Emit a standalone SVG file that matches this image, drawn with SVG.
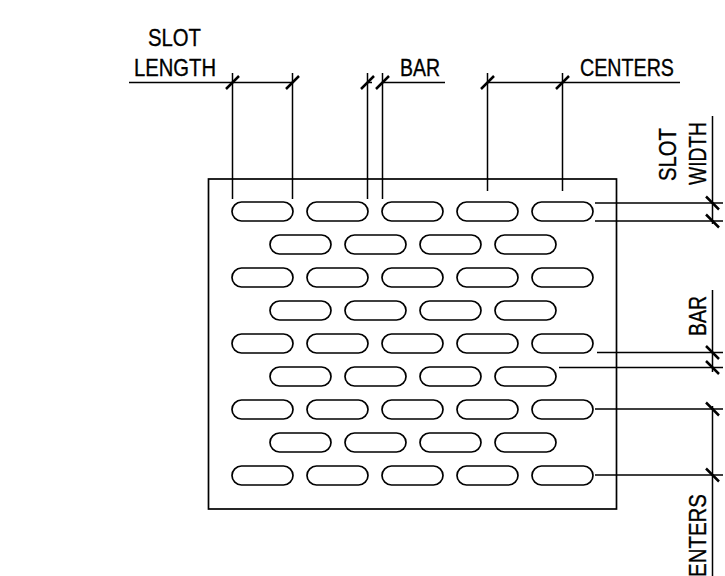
<svg xmlns="http://www.w3.org/2000/svg" width="725" height="576" viewBox="0 0 725 576">
<style>
.o{fill:none;stroke:#000;stroke-width:1.5}
.s{fill:none;stroke:#000;stroke-width:1.7}
.t{fill:none;stroke:#000;stroke-width:2.5}
text{font-family:"Liberation Sans",Arial,sans-serif;font-size:24.5px;fill:#000;stroke:#000;stroke-width:.35}
</style>
<defs>
<rect id="slot" x="0" y="-9.5" width="61" height="19" rx="9.5" ry="9.5" class="s"/>
<path id="th" d="M-6.5 6.5L6.5-6.5" class="t"/>
<path id="tv" d="M-6.5-6.5L6.5 6.5" class="t"/>
</defs>
<g id="plate"><rect x="208.5" y="179" width="408" height="330" class="s"/></g>
<g id="slots">
<use href="#slot" x="232" y="211.5"/><use href="#slot" x="307" y="211.5"/><use href="#slot" x="382" y="211.5"/><use href="#slot" x="457" y="211.5"/><use href="#slot" x="532" y="211.5"/>
<use href="#slot" x="270" y="244.5"/><use href="#slot" x="345" y="244.5"/><use href="#slot" x="420" y="244.5"/><use href="#slot" x="495" y="244.5"/>
<use href="#slot" x="232" y="277.5"/><use href="#slot" x="307" y="277.5"/><use href="#slot" x="382" y="277.5"/><use href="#slot" x="457" y="277.5"/><use href="#slot" x="532" y="277.5"/>
<use href="#slot" x="270" y="310.5"/><use href="#slot" x="345" y="310.5"/><use href="#slot" x="420" y="310.5"/><use href="#slot" x="495" y="310.5"/>
<use href="#slot" x="232" y="343.5"/><use href="#slot" x="307" y="343.5"/><use href="#slot" x="382" y="343.5"/><use href="#slot" x="457" y="343.5"/><use href="#slot" x="532" y="343.5"/>
<use href="#slot" x="270" y="376.5"/><use href="#slot" x="345" y="376.5"/><use href="#slot" x="420" y="376.5"/><use href="#slot" x="495" y="376.5"/>
<use href="#slot" x="232" y="409.5"/><use href="#slot" x="307" y="409.5"/><use href="#slot" x="382" y="409.5"/><use href="#slot" x="457" y="409.5"/><use href="#slot" x="532" y="409.5"/>
<use href="#slot" x="270" y="442.5"/><use href="#slot" x="345" y="442.5"/><use href="#slot" x="420" y="442.5"/><use href="#slot" x="495" y="442.5"/>
<use href="#slot" x="232" y="475.5"/><use href="#slot" x="307" y="475.5"/><use href="#slot" x="382" y="475.5"/><use href="#slot" x="457" y="475.5"/><use href="#slot" x="532" y="475.5"/>
</g>
<g id="connectors">
<path class="o" d="M129 82.5H292.5M232.5 73V199M292.5 73V199M367.5 73V199M382.5 73V199M367.5 82.5H372M382.5 82.5H445M487.5 73V191M562.5 73V191M487.5 82.5H680"/>
<path class="o" d="M712.5 116V224M595 203H723M595 221H723M712.5 290V372M597 352.5H723M559 367.5H723M595 409H723M595 475H723M712.5 406V576"/>
<use href="#th" x="232.5" y="82.5"/><use href="#th" x="292.5" y="82.5"/><use href="#th" x="367.5" y="82.5"/><use href="#th" x="382.5" y="82.5"/><use href="#th" x="487.5" y="82.5"/><use href="#th" x="562.5" y="82.5"/>
<use href="#tv" x="712.5" y="203"/><use href="#tv" x="712.5" y="221"/><use href="#tv" x="712.5" y="352.5"/><use href="#tv" x="712.5" y="367.5"/><use href="#tv" x="712.5" y="409"/><use href="#tv" x="712.5" y="475"/>
</g>
<g id="labels">
<text x="148" y="46" textLength="53" lengthAdjust="spacingAndGlyphs">SLOT</text>
<text x="134" y="76" textLength="82" lengthAdjust="spacingAndGlyphs">LENGTH</text>
<text x="400" y="76" textLength="40" lengthAdjust="spacingAndGlyphs">BAR</text>
<text x="580" y="76" textLength="94" lengthAdjust="spacingAndGlyphs">CENTERS</text>
<text transform="translate(676 181) rotate(-90)" textLength="53" lengthAdjust="spacingAndGlyphs">SLOT</text>
<text transform="translate(706 185) rotate(-90)" textLength="63" lengthAdjust="spacingAndGlyphs">WIDTH</text>
<text transform="translate(706 336) rotate(-90)" textLength="40" lengthAdjust="spacingAndGlyphs">BAR</text>
<text transform="translate(706 577) rotate(-90)" textLength="83" lengthAdjust="spacingAndGlyphs">ENTERS</text>
</g>
</svg>
